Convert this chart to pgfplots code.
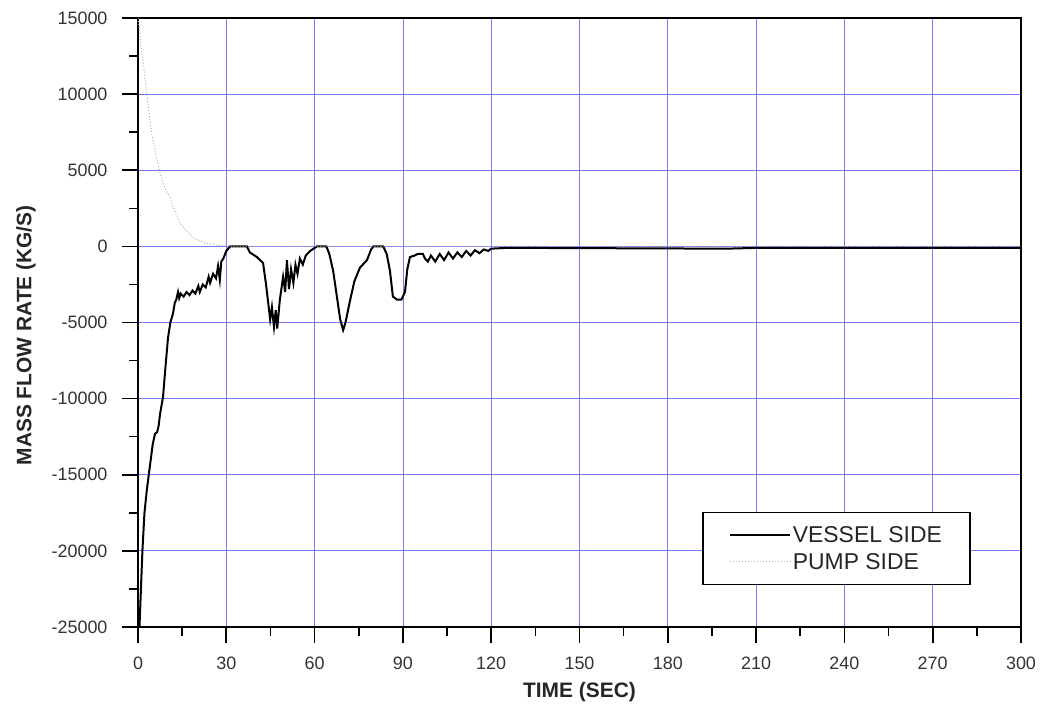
\documentclass[border=0pt]{standalone}
\usepackage{pgfplots}
\pgfplotsset{compat=1.18}
\usepackage{fontspec}
\setmainfont{Liberation Sans}
\definecolor{gridblue}{RGB}{120,120,255}
\begin{document}
\begin{tikzpicture}[x=1bp,y=1bp]
\begin{axis}[
  scale only axis,
  width=883bp, height=609bp,
  xmin=0, xmax=300, ymin=-25000, ymax=15000,
  xtick={0,30,...,300}, ytick={-25000,-20000,...,15000},
  minor x tick num=1, minor y tick num=1,
  xtick pos=bottom, ytick pos=left,
  scaled y ticks=false,
  /pgf/number format/assume math mode=true,
  /pgf/number format/set thousands separator={},
  tick label style={font=\fontsize{18}{20}\selectfont, text=black!80},
  xticklabel style={yshift=-10bp},
  yticklabel style={xshift=-11bp},
  tick align=outside,
  major tick length=16bp, minor tick length=9bp,
  tick style={black, line width=1.6bp},
  axis line style={line width=2bp},
  grid=major,
  major grid style={gridblue, line width=0.8bp},
  xlabel={\bfseries TIME (SEC)},
  ylabel={\bfseries MASS FLOW RATE (KG/S)},
  label style={font=\fontsize{21}{24}\selectfont, text=black!85},
  xlabel style={at={(axis description cs:0.5,-0.1067)}, anchor=center},
  ylabel style={at={(axis description cs:-0.127,0.479)}, anchor=center},
  legend style={at={(0.639,0.189)}, anchor=north west, draw=black, line width=1.3bp,
    font=\fontsize{23}{26}\selectfont, inner xsep=26bp, inner ysep=12bp, row sep=5bp,
    text=black!85},
  legend cell align=left,
  legend image code/.code={\draw[#1] (0bp,0bp) -- (60bp,0bp);},
  clip=true,
]
\addplot[black, line width=2bp] coordinates {
(0,-25000)(0.5,-25000)(1.0,-22500)(1.5,-20000)(2.2,-17500)(3,-16000)(4,-14500)(5,-13000)
(5.8,-12300)(6.5,-12200)(7,-11800)(7.5,-11000)(8.5,-9900)(9.3,-8000)(10.2,-6000)(11,-5000)
(11.9,-4400)(12.5,-3700)(13,-3500)(13.6,-3000)(14,-3400)(14.5,-3100)(15.5,-3300)(16.5,-3000)
(17.5,-3200)(18.5,-2900)(19.5,-3100)(20.5,-2600)(21,-3000)(22,-2500)(23,-2700)(24,-2000)
(24.5,-2400)(25.5,-1800)(26.5,-2100)(27.2,-1300)(27.8,-2200)(28.3,-1000)(29,-800)(30,-300)
(31.3,0)(37,0)(38,-400)(40.4,-700)(42.5,-1100)(43.5,-2500)(44.9,-4800)(45.5,-4000)(46.2,-5300)
(46.8,-4200)(47.3,-5400)(48.2,-3500)(49.3,-2000)(50,-3000)(50.6,-900)(51.3,-2800)(52,-1500)
(52.8,-2400)(53.5,-1200)(54.2,-1800)(55,-800)(56,-1200)(57,-600)(58.5,-300)(60.8,0)(64,0)
(65,-500)(66.3,-1600)(67.5,-3200)(68.7,-4800)(69.7,-5500)(70.5,-5000)(72,-3600)(73.5,-2300)
(75.4,-1400)(77.8,-900)(79.2,-200)(80,0)(83.3,0)(84.5,-500)(85.6,-1600)(86.6,-3300)(88,-3500)
(89.5,-3500)(90.7,-3000)(91.5,-1500)(92.4,-700)(94,-600)(95,-500)(96.8,-500)(97.5,-800)
(98.5,-1000)(99.5,-600)(101,-1000)(102.5,-500)(104,-900)(105.5,-400)(107,-800)(108.5,-400)
(110,-700)(111.5,-300)(113,-600)(114.5,-250)(116,-450)(117.5,-200)(119,-300)(120,-150)
(125,-100)(130,-100)(200,-150)(210,-100)(300,-100)
};
\addlegendentry{VESSEL SIDE}
\addplot[gray!60, dotted, line width=1bp] coordinates {
(0,15000)(0.5,14200)(1,13200)(1.7,12200)(3,10000)(4,8300)(5,7000)(5.8,6300)(7.5,4800)
(9,3900)(10.9,3200)(12.5,2300)(14.3,1500)(16.5,1000)(18.7,600)(21,350)(23.4,200)(28,50)
(32,0)(300,0)
};
\addlegendentry{PUMP SIDE}
\end{axis}
\pgfresetboundingbox
\path (current axis.south west) ++(-138bp,-87bp) coordinate (bbl);
\path (current axis.north east) ++(30bp,18bp) coordinate (btr);
\path[use as bounding box] (bbl) rectangle (btr);
\end{tikzpicture}
\end{document}
